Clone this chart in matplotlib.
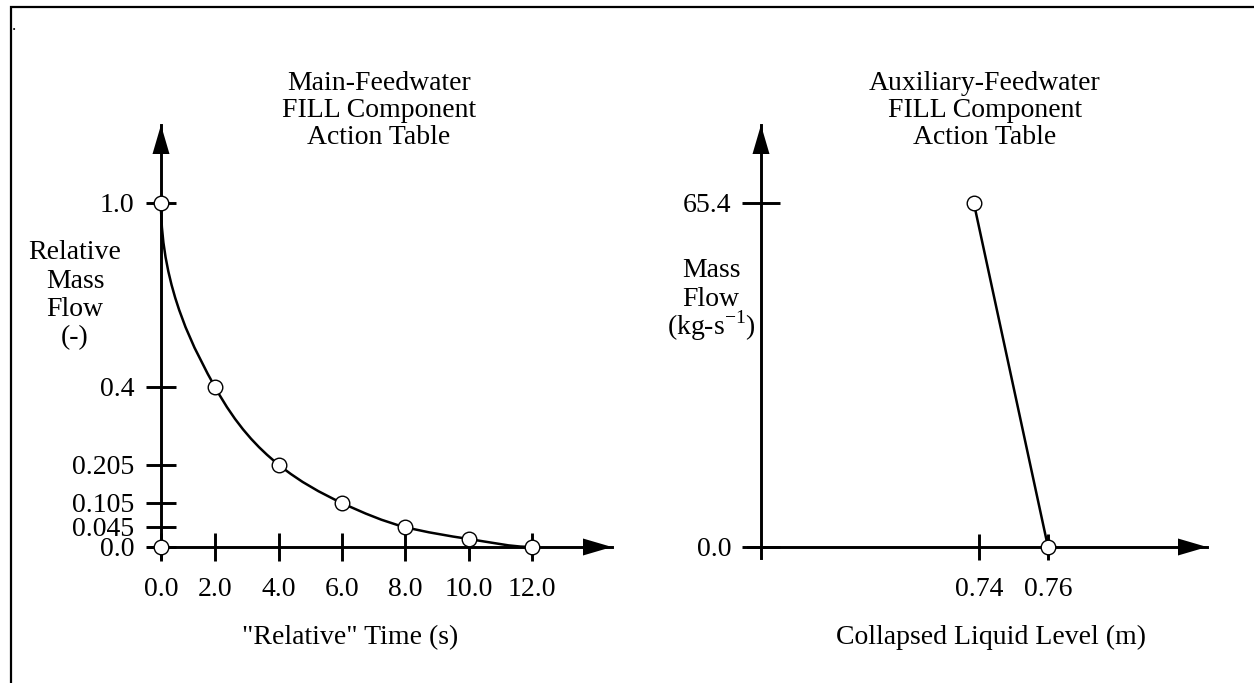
import numpy as np
import matplotlib
matplotlib.use("Agg")
import matplotlib.pyplot as plt
from matplotlib.patches import Polygon, Rectangle, PathPatch
from matplotlib.path import Path

# --------------------------------------------------------------------------- #
# Data                                                                        #
# --------------------------------------------------------------------------- #
MAIN_TIME = [0.0, 2.0, 4.0, 6.0, 8.0, 10.0, 12.0]
MAIN_FLOW = [1.0, 0.4, 0.205, 0.105, 0.045, 0.018, 0.0]
MAIN_START_TIME = [0.0]
MAIN_START_FLOW = [0.0]
MAIN_XTICKS = [0.0, 2.0, 4.0, 6.0, 8.0, 10.0, 12.0]
MAIN_XTICKLABELS = ["0.0", "2.0", "4.0", "6.0", "8.0", "10.0", "12.0"]
MAIN_YTICKS = [0.0, 0.045, 0.105, 0.205, 0.4, 1.0]
MAIN_YTICKLABELS = ["0.0", "0.045", "0.105", "0.205", "0.4", "1.0"]

AUX_LEVEL = [0.7385, 0.76]
AUX_FLOW = [65.4, 0.0]
AUX_XTICKS = [0.74, 0.76]
AUX_XTICKLABELS = ["0.74", "0.76"]
AUX_YTICKS = [0.0, 65.4]
AUX_YTICKLABELS = ["0.0", "65.4"]

# --------------------------------------------------------------------------- #
# Layout (image pixels, origin top-left)                                      #
# --------------------------------------------------------------------------- #
W, H = 1254, 683
FS = 20
LW_AXIS = 2.1
LW_LINE = 1.8

plt.rcParams["font.family"] = ["Liberation Serif", "DejaVu Serif"]
plt.rcParams["mathtext.fontset"] = "custom"
plt.rcParams["mathtext.rm"] = "Liberation Serif"


def fx(px):
    return px / W


def fy(py):
    return 1 - py / H


def piecewise(xp, fp):
    """piecewise-linear map with linear extrapolation at both ends"""
    xp = np.asarray(xp, float)
    fp = np.asarray(fp, float)
    lo = (fp[1] - fp[0]) / (xp[1] - xp[0])
    hi = (fp[-1] - fp[-2]) / (xp[-1] - xp[-2])

    def f(v):
        v = np.asarray(v, float)
        out = np.interp(v, xp, fp)
        out = np.where(v < xp[0], fp[0] + (v - xp[0]) * lo, out)
        out = np.where(v > xp[-1], fp[-1] + (v - xp[-1]) * hi, out)
        return out
    return f


fig = plt.figure(figsize=(W / 100, H / 100), dpi=100)

# page frame (cut at right / bottom) and the stray dot
fig.add_artist(Rectangle((fx(11), fy(700)), 1.2, fy(7) - fy(700),
                         transform=fig.transFigure, fill=False, lw=1.6, color="black"))
fig.text(fx(12), fy(30), ".", fontsize=12, va="baseline")


def arrowheads(x0, y0, tip_x, tip_y):
    # vertical arrow at the y axis, horizontal one at the x axis
    fig.add_artist(Polygon([(fx(x0), fy(tip_y)), (fx(x0 - 8.5), fy(tip_y + 29)),
                            (fx(x0 + 8.5), fy(tip_y + 29))],
                           closed=True, transform=fig.transFigure, color="black", lw=0))
    fig.add_artist(Polygon([(fx(tip_x), fy(y0)), (fx(tip_x - 29), fy(y0 - 8.5)),
                            (fx(tip_x - 29), fy(y0 + 8.5))],
                           closed=True, transform=fig.transFigure, color="black", lw=0))


def style_axes(ax, ylen, xlen):
    for s in ("top", "right"):
        ax.spines[s].set_visible(False)
    for s in ("left", "bottom"):
        ax.spines[s].set_linewidth(LW_AXIS)
    ax.patch.set_alpha(0)
    ax.tick_params(axis="y", direction="inout", length=ylen, width=LW_AXIS,
                   pad=8, labelsize=FS)
    ax.tick_params(axis="x", direction="inout", length=xlen, width=LW_AXIS,
                   pad=12, labelsize=FS)


def stack(x, baselines, lines):
    for yb, txt in zip(baselines, lines):
        fig.text(fx(x), fy(yb), txt, ha="center", va="baseline", fontsize=FS)


# --------------------------------------------------------------------------- #
# Left: main feedwater                                                        #
# --------------------------------------------------------------------------- #
L_LEFT, L_RIGHT, TOP, BOTTOM = 148, 612, 125, 558
L_YAX, XAX = 161, 547
MAIN_X_PIX = [0, 54, 118, 181, 244, 308, 371]      # tick offsets from the y axis
MAIN_Y_PIX = [0, 20, 44, 82, 160, 344]              # tick offsets above the x axis

fwd_x = piecewise(MAIN_XTICKS, MAIN_X_PIX)
inv_x = piecewise(MAIN_X_PIX, MAIN_XTICKS)
fwd_y = piecewise(MAIN_YTICKS, MAIN_Y_PIX)
inv_y = piecewise(MAIN_Y_PIX, MAIN_YTICKS)

ax1 = fig.add_axes([fx(L_LEFT), fy(BOTTOM), (L_RIGHT - L_LEFT) / W, (BOTTOM - TOP) / H])
ax1.set_xscale("function", functions=(fwd_x, inv_x))
ax1.set_yscale("function", functions=(fwd_y, inv_y))
ax1.set_xlim(float(inv_x(L_LEFT - L_YAX)), float(inv_x(L_RIGHT - L_YAX)))
ax1.set_ylim(float(inv_y(XAX - BOTTOM)), float(inv_y(XAX - TOP)))
ax1.spines["left"].set_position(("data", 0))
ax1.spines["bottom"].set_position(("data", 0))
style_axes(ax1, 22, 19.5)
ax1.set_xticks(MAIN_XTICKS, MAIN_XTICKLABELS)
ax1.set_yticks(MAIN_YTICKS, MAIN_YTICKLABELS)
ax1.minorticks_off()

# smooth monotone curve through the table points, built as cubic Bezier
# segments in the (screen-linear) scaled space, then mapped back to data
P = np.column_stack([fwd_x(MAIN_TIME), fwd_y(MAIN_FLOW)])
h = np.diff(P[:, 0])
s = np.diff(P[:, 1]) / h
d = np.zeros(len(P))
for i in range(1, len(P) - 1):
    if s[i - 1] * s[i] > 0:
        w1, w2 = 2 * h[i] + h[i - 1], h[i] + 2 * h[i - 1]
        d[i] = (w1 + w2) / (w1 / s[i - 1] + w2 / s[i])
verts, codes = [P[0]], [Path.MOVETO]
for i in range(len(P) - 1):
    if i == 0:
        c1 = P[0] + [0, -0.46 * np.hypot(h[0], s[0] * h[0])]   # leaves the axis vertically
    else:
        c1 = P[i] + h[i] / 3 * np.array([1, d[i]])
    c2 = P[i + 1] - h[i] / 3 * np.array([1, d[i + 1]])
    verts += [c1, c2, P[i + 1]]
    codes += [Path.CURVE4] * 3
verts = np.array(verts)
verts = np.column_stack([inv_x(verts[:, 0]), inv_y(verts[:, 1])])
ax1.add_patch(PathPatch(Path(verts, codes), fill=False, lw=LW_LINE, color="black",
                        clip_on=False, zorder=3))

mk = dict(ls="none", marker="o", ms=10.5, mfc="white", mec="black", mew=1.0,
          clip_on=False, zorder=5)
ax1.plot(MAIN_TIME, MAIN_FLOW, **mk)
ax1.plot(MAIN_START_TIME, MAIN_START_FLOW, **mk)

arrowheads(L_YAX, XAX, L_RIGHT, TOP)
stack(379, [90, 117, 144], ["Main-Feedwater", "FILL Component", "Action Table"])
stack(75, [259, 287.5, 316, 344.5], ["Relative", "Mass", "Flow", "(-)"])
stack(350, [644], ['"Relative" Time (s)'])

# --------------------------------------------------------------------------- #
# Right: auxiliary feedwater                                                  #
# --------------------------------------------------------------------------- #
R_LEFT, R_RIGHT = 748, 1207
R_YAX = 761
AUX_X_PIX = [979, 1048]
x_per_px = (AUX_XTICKS[1] - AUX_XTICKS[0]) / (AUX_X_PIX[1] - AUX_X_PIX[0])
y_per_px = AUX_YTICKS[1] / (XAX - 203)

ax2 = fig.add_axes([fx(R_LEFT), fy(BOTTOM), (R_RIGHT - R_LEFT) / W, (BOTTOM - TOP) / H])
ax2.set_xlim(AUX_XTICKS[0] + (R_LEFT - AUX_X_PIX[0]) * x_per_px,
             AUX_XTICKS[0] + (R_RIGHT - AUX_X_PIX[0]) * x_per_px)
ax2.set_ylim((XAX - BOTTOM) * y_per_px, (XAX - TOP) * y_per_px)
ax2.spines["left"].set_position(("axes", (R_YAX - R_LEFT) / (R_RIGHT - R_LEFT)))
ax2.spines["bottom"].set_position(("data", 0))
style_axes(ax2, 27, 19)
ax2.set_xticks(AUX_XTICKS, AUX_XTICKLABELS)
ax2.set_yticks(AUX_YTICKS, AUX_YTICKLABELS)

ax2.plot(AUX_LEVEL, AUX_FLOW, color="black", lw=LW_LINE, clip_on=False, zorder=3)
ax2.plot(AUX_LEVEL, AUX_FLOW, **mk)

arrowheads(R_YAX, XAX, R_RIGHT, TOP)
stack(985, [90, 117, 144], ["Auxiliary-Feedwater", "FILL Component", "Action Table"])
stack(711, [277, 306, 335], ["Mass", "Flow", r"(kg-s$^{\mathrm{-1}}$)"])
stack(991, [644], ["Collapsed Liquid Level (m)"])

fig.savefig("out.png", dpi=100)
